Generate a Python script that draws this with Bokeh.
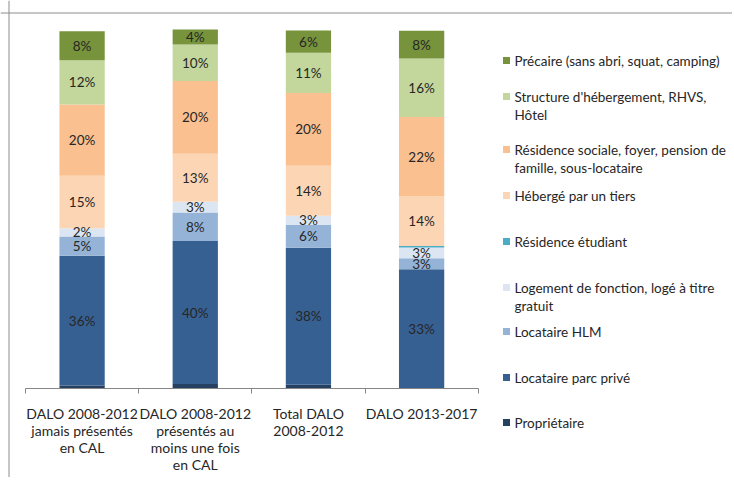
from bokeh.plotting import figure
from bokeh.models import Range1d, LinearAxis, FixedTicker, ColumnDataSource, Span
from bokeh.embed import file_html
from bokeh.resources import INLINE
from bokeh.core.properties import value

# ---------------- data ----------------
categories = [
    "DALO 2008-2012\njamais présentés\nen CAL",
    "DALO 2008-2012\nprésentés au\nmoins une fois\nen CAL",
    "Total DALO\n2008-2012",
    "DALO 2013-2017",
]

series_names = [
    "Propriétaire",
    "Locataire parc privé",
    "Locataire HLM",
    "Logement de fonction, logé à titre\ngratuit",
    "Résidence étudiant",
    "Hébergé par un tiers",
    "Résidence sociale, foyer, pension de\nfamille, sous-locataire",
    "Structure d'hébergement, RHVS,\nHôtel",
    "Précaire (sans abri, squat, camping)",
]

proprietaire = [0.7, 1.1, 0.9, 0.0]
locataire_prive = [36.3, 40.0, 38.3, 33.2]
locataire_hlm = [5.4, 8.0, 6.4, 3.1]
logement_fonction = [2.3, 3.0, 2.6, 3.0]
residence_etudiant = [0.0, 0.0, 0.0, 0.4]
heberge_tiers = [14.7, 13.4, 14.0, 14.0]
residence_sociale = [19.9, 20.4, 20.3, 22.1]
structure_hebergement = [12.4, 10.2, 11.3, 16.4]
precaire = [8.1, 4.2, 6.2, 7.7]

series_values = [proprietaire, locataire_prive, locataire_hlm, logement_fonction,
                 residence_etudiant, heberge_tiers, residence_sociale,
                 structure_hebergement, precaire]

colors = ["#254061", "#376092", "#95B3D7", "#DCE6F2", "#4BACC6",
          "#FCD5B5", "#FAC090", "#C3D69B", "#77933C"]

TEXT = "#262626"
AXIS = "#868686"
BORDER = "#8C8C8C"
FONT = "Lato"

# ---------------- layout geometry (page pixels) ----------------
W, H = 732, 477
FX0, FX1 = 0, W            # frame horizontal extent
FY0, FY1 = 0, H            # frame vertical extent
AX_X0, AX_X1 = 25.0, 477.7 # category axis extent
AX_Y0, AX_Y100 = 387.5, 30.0  # value 0 and 100 positions

n = len(categories)
sx = (AX_X1 - AX_X0) / n
bx_start = -(AX_X0 - FX0) / sx
bx_end = n + (FX1 - AX_X1) / sx
sy = (AX_Y0 - AX_Y100) / 100.0
by_start = -(FY1 - AX_Y0) / sy
by_end = 100 + (AX_Y100 - FY0) / sy

p = figure(width=W, height=H, title=None,
           x_range=Range1d(FX0, FX1), y_range=Range1d(FY1, FY0),
           x_axis_type=None, y_axis_type=None,
           toolbar_location=None, output_backend="svg",
           min_border_left=0, min_border_right=0, min_border_top=0,
           min_border_bottom=0, outline_line_color=None,
           background_fill_color="white", border_fill_color="white")
p.extra_x_ranges = {"bx": Range1d(bx_start, bx_end)}
p.extra_y_ranges = {"by": Range1d(by_start, by_end)}

# ---------------- bars ----------------
xs = [i + 0.5 for i in range(n)]
keys = ["s%d" % i for i in range(len(series_values))]
data = {"x": xs}
for k, vals in zip(keys, series_values):
    data[k] = vals
source = ColumnDataSource(data)

p.vbar_stack(keys, x="x", width=0.4, color=colors, line_color=None,
             source=source, x_range_name="bx", y_range_name="by")

# data labels (segment centres)
lx, ly, lt = [], [], []
for j, x in enumerate(xs):
    bottom = 0.0
    for vals in series_values:
        v = vals[j]
        if v >= 1.5:
            lx.append(x)
            ly.append(bottom + v / 2)
            lt.append("%d%%" % round(v))
        bottom += v
p.text(x=lx, y=ly, text=lt, text_align="center", text_baseline="middle",
       text_font=value(FONT), text_font_size="13.5px", text_color=TEXT,
       x_range_name="bx", y_range_name="by")

# ---------------- category axis ----------------
xaxis = LinearAxis(x_range_name="bx", y_range_name="by", fixed_location=0,
                   bounds=(0, n),
                   ticker=FixedTicker(ticks=xs, minor_ticks=list(range(n + 1))))
xaxis.major_label_overrides = {x: c for x, c in zip(xs, categories)}
xaxis.axis_line_color = AXIS
xaxis.major_tick_in = 0
xaxis.major_tick_out = 0
xaxis.minor_tick_in = 0
xaxis.minor_tick_out = 5
xaxis.minor_tick_line_color = AXIS
xaxis.major_label_text_font = FONT
xaxis.major_label_text_font_size = "14px"
xaxis.major_label_text_color = TEXT
xaxis.major_label_text_line_height = 1.0
xaxis.major_label_standoff = 12
p.add_layout(xaxis, "below")

# ---------------- chart border (top / left) ----------------
p.add_layout(Span(location=8.5, dimension="height", line_color=BORDER, line_width=1))
p.add_layout(Span(location=12.5, dimension="width", line_color=BORDER, line_width=1))

# ---------------- legend ----------------
legend_first_line_y = [422, 377, 331, 287, 241, 195, 149, 96, 60]
mx, my, mc = [], [], []
tx, ty, tt = [], [], []
for name, col, y in zip(series_names, colors, legend_first_line_y):
    mx.append(506)
    my.append(y)
    mc.append(col)
    for i, line in enumerate(name.split("\n")):
        tx.append(514)
        ty.append(y + 18 * i)
        tt.append(line)
p.scatter(x=mx, y=my, marker="square", size=7, color=mc, line_color=None)
p.text(x=tx, y=ty, text=tt, text_align="left", text_baseline="middle",
       text_font=value(FONT), text_font_size="13.5px", text_color=TEXT)

open("out.html", "w").write(file_html(p, INLINE))
